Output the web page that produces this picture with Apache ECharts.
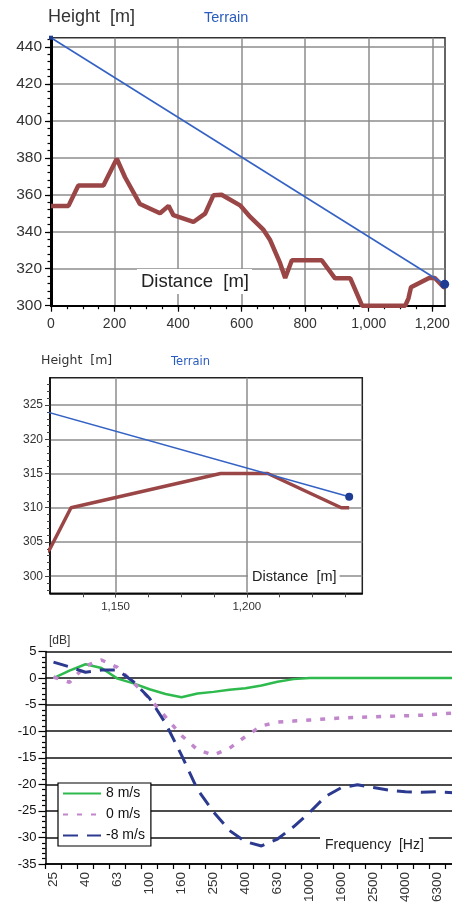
<!DOCTYPE html>
<html><head><meta charset="utf-8">
<script src="https://cdn.jsdelivr.net/npm/echarts@6/dist/echarts.min.js"></script>
<style>html,body{margin:0;padding:0;background:#fff;overflow:hidden;width:452px;height:914px}#c{width:462px;height:914px}</style>
</head><body><div id="c"></div>
<script>
// ---- Terrain profile (distance m, height m)
const terrain = [[0,354],[55,354],[86,365],[165,365],[207,379.5],[233,369.5],[280,355],[343,350],[370,354],[385,349],[448,345.3],[485,349.8],[511,359.7],[537,360],[595,354.3],[627,348],[669,341],[690,335.4],[721,323],[737,315],[758,324.6],[852,324.6],[894,314.8],[942,314.8],[979,300],[1115,300],[1125,304],[1133,310],[1190,315],[1208,315],[1236,310],[1239,310]];
const sightLine = [[0,445],[1239,311.6]];
const p1XTicks = [0,200,400,600,800,1000,1200];
const p1YTicks = [300,320,340,360,380,400,420,440];
const p2XTicks = [1150,1200];
const p2YTicks = [300,305,310,315,320,325];
// ---- Frequency chart
const bands = ['25','31.5','40','50','63','80','100','125','160','200','250','315','400','500','630','800','1000','1250','1600','2000','2500','3150','4000','5000','6300','8000'];
const wind8 = [0,1.4,2.6,1.9,-0.1,-1.0,-2.1,-3.0,-3.6,-2.9,-2.6,-2.2,-1.9,-1.4,-0.7,-0.2,0,0,0,0,0,0,0,0,0,0];
const wind0 = [0.2,-0.8,2.3,3.4,2.0,-0.9,-3.8,-7.3,-10.8,-13.5,-14.5,-13.2,-11.0,-9.0,-8.3,-8.1,-7.9,-7.7,-7.5,-7.4,-7.3,-7.2,-7.1,-7.0,-6.8,-6.6];
const windM8 = [3.0,2.1,1.1,1.5,1.5,-0.7,-3.8,-8.5,-14.5,-21,-25.2,-28.7,-30.8,-31.6,-30.3,-28,-25.3,-22.3,-20.6,-20.1,-20.6,-21.1,-21.4,-21.5,-21.4,-21.6];
const seriesNames = ['8 m/s','0 m/s','-8 m/s'];

function steps(a,b,s){const r=[];for(let v=a;v<=b+1e-9;v+=s)r.push(+v.toFixed(3));return r;}
const fmt = v => Number(v).toLocaleString('en-US');
const SANS = 'Liberation Sans, Arial, sans-serif';
const DJV = 'DejaVu Sans, sans-serif';
const W = 462; // canvas wider than the window so the last band runs off the right edge

const chart = echarts.init(document.getElementById('c'), null, {renderer:'canvas'});
const gray = '#8c8c8c';
const clear = 'rgba(0,0,0,0)';

const option = {
  animation:false,
  backgroundColor:'#fff',
  title:[
    {text:'Height  [m]', left:48, top:7, padding:0, textStyle:{fontFamily:SANS,fontSize:18,fontWeight:'normal',color:'#333',lineHeight:20}},
    {text:'Terrain', left:204, top:10, padding:0, textStyle:{fontFamily:SANS,fontSize:14.5,fontWeight:'normal',color:'#2a5cbf',lineHeight:16}},
    {text:'Distance  [m]', left:137, top:269, padding:[3,3,2,4], backgroundColor:'#fff', textStyle:{fontFamily:SANS,fontSize:18.5,fontWeight:'normal',color:'#222',lineHeight:20}},
    {text:'Height  [m]', left:41, top:354, padding:0, textStyle:{fontFamily:DJV,fontSize:12.5,fontWeight:'normal',color:'#333',lineHeight:14}},
    {text:'Terrain', left:171, top:355, padding:0, textStyle:{fontFamily:DJV,fontSize:11.5,fontWeight:'normal',color:'#2a5cbf',lineHeight:14}},
    {text:'Distance  [m]', left:248, top:567, padding:[2,3,2,4], backgroundColor:'#fff', textStyle:{fontFamily:SANS,fontSize:14.5,fontWeight:'normal',color:'#222',lineHeight:16}},
    {text:'[dB]', left:49, top:634, padding:0, textStyle:{fontFamily:SANS,fontSize:12,fontWeight:'normal',color:'#333',lineHeight:14}},
    {text:'Frequency  [Hz]', left:320, top:836, padding:[1,5,1,5], backgroundColor:'#fff', textStyle:{fontFamily:SANS,fontSize:14,fontWeight:'normal',color:'#222',lineHeight:16}}
  ],
  legend:{
    data:seriesNames, orient:'vertical', left:58, top:783,
    itemWidth:38, itemHeight:14, itemGap:7, padding:[3.5,6,3.5,4],
    borderColor:'#000', borderWidth:1.2, backgroundColor:'#fff', borderRadius:0,
    textStyle:{fontFamily:SANS,fontSize:14,color:'#111'}, selectedMode:false
  },
  grid:[
    {left:51, top:37.7, right:W-445, bottom:608.3, show:true, borderColor:'#333', borderWidth:1.5},
    {left:50, top:377.7, right:W-362.3, bottom:320.7, show:true, borderColor:'#222', borderWidth:1.5},
    {left:45.5, top:651.5, right:W-461.5, bottom:50}
  ],
  xAxis:[
    {gridIndex:0, type:'value', min:0, max:1240, position:'bottom',
     axisLine:{show:true,onZero:false,lineStyle:{color:'#000',width:2}},
     axisTick:{show:true,length:6,customValues:p1XTicks,lineStyle:{color:'#000',width:1.2}},
     axisLabel:{customValues:p1XTicks,formatter:fmt,fontFamily:SANS,fontSize:14,color:'#333',margin:11},
     splitLine:{show:true,lineStyle:{color:gray,width:1.5}}},
    {gridIndex:0, type:'value', min:0, max:1240, position:'bottom',
     axisLine:{show:false}, axisLabel:{show:false}, splitLine:{show:false},
     axisTick:{show:true,length:3.5,customValues:steps(50,1200,50),lineStyle:{color:'#000',width:1.2}}},
    {gridIndex:1, type:'value', min:1125, max:1244, position:'bottom',
     axisLine:{show:true,onZero:false,lineStyle:{color:'#000',width:1.5}},
     axisTick:{show:true,length:4,customValues:p2XTicks,lineStyle:{color:'#444',width:1}},
     axisLabel:{customValues:p2XTicks,formatter:fmt,fontFamily:SANS,fontSize:11.5,color:'#333',margin:8},
     splitLine:{show:true,lineStyle:{color:gray,width:1.5}}},
    {gridIndex:1, type:'value', min:1125, max:1244, position:'bottom',
     axisLine:{show:false}, axisLabel:{show:false}, splitLine:{show:false},
     axisTick:{show:true,length:4,customValues:steps(1137.5,1237.5,12.5),lineStyle:{color:'#444',width:1}}},
    {gridIndex:2, type:'category', data:bands, boundaryGap:true, position:'bottom',
     axisLine:{show:true,onZero:false,lineStyle:{color:'#000',width:1.5}},
     axisTick:{show:true,interval:0,length:5,alignWithLabel:false,lineStyle:{color:'#000',width:1.2}},
     axisLabel:{interval:1,rotate:90,fontFamily:SANS,fontSize:13.5,color:'#333',margin:8},
     splitLine:{show:false}}
  ],
  yAxis:[
    {gridIndex:0, type:'value', min:300, max:445, position:'left',
     axisLine:{show:true,onZero:false,lineStyle:{color:'#000',width:3}},
     axisTick:{show:true,length:6,customValues:p1YTicks,lineStyle:{color:'#000',width:1.2}},
     axisLabel:{customValues:p1YTicks,fontFamily:SANS,fontSize:15.5,color:'#333',margin:9},
     splitLine:{show:true,lineStyle:{color:gray,width:1.5}}},
    {gridIndex:0, type:'value', min:300, max:445, position:'left',
     axisLine:{show:false}, axisLabel:{show:false}, splitLine:{show:false},
     axisTick:{show:true,length:3.5,customValues:steps(304,444,4),lineStyle:{color:'#000',width:1.2}}},
    {gridIndex:1, type:'value', min:297.5, max:329, position:'left',
     axisLine:{show:true,onZero:false,lineStyle:{color:'#000',width:1.5}},
     axisTick:{show:true,length:5,customValues:p2YTicks,lineStyle:{color:'#444',width:1}},
     axisLabel:{customValues:p2YTicks,fontFamily:SANS,fontSize:12,color:'#333',margin:7},
     splitLine:{show:true,lineStyle:{color:gray,width:1.5}}},
    {gridIndex:1, type:'value', min:297.5, max:329, position:'left',
     axisLine:{show:false}, axisLabel:{show:false}, splitLine:{show:false},
     axisTick:{show:true,length:3,customValues:steps(298,328,1),lineStyle:{color:'#444',width:1}}},
    {gridIndex:2, type:'value', min:-35, max:5, interval:5, position:'left',
     axisLine:{show:true,onZero:false,lineStyle:{color:'#000',width:1.5}},
     axisTick:{show:true,length:7,lineStyle:{color:'#000',width:1.2}},
     minorTick:{show:true,splitNumber:5,length:3.5,lineStyle:{color:'#000',width:1.2}},
     axisLabel:{fontFamily:SANS,fontSize:13,color:'#111',margin:9},
     splitLine:{show:true,lineStyle:{color:'#111',width:1.5}}}
  ],
  series:[
    {name:'terrain1', type:'line', xAxisIndex:0, yAxisIndex:0, data:terrain, symbol:'none', clip:true,
     lineStyle:{color:'#9a4646',width:4.5}, z:3},
    {name:'sight1', type:'line', xAxisIndex:0, yAxisIndex:0, clip:true, showSymbol:true,
     data:[{value:sightLine[0],symbol:'rect',symbolSize:4},{value:sightLine[1],symbol:'circle',symbolSize:9}],
     lineStyle:{color:'#3462c4',width:1.6}, itemStyle:{color:'#1f3c94'}, z:4},
    {name:'terrain2', type:'line', xAxisIndex:2, yAxisIndex:2, data:terrain, symbol:'none', clip:true,
     lineStyle:{color:'#9a4646',width:3.5}, z:3},
    {name:'sight2', type:'line', xAxisIndex:2, yAxisIndex:2, clip:true, showSymbol:true,
     data:[{value:sightLine[0],symbol:'rect',symbolSize:4},{value:sightLine[1],symbol:'circle',symbolSize:8}],
     lineStyle:{color:'#3462c4',width:1.5}, itemStyle:{color:'#1f3c94'}, z:4},
    {name:seriesNames[0], type:'line', xAxisIndex:4, yAxisIndex:4, data:wind8, symbol:'none',
     lineStyle:{color:'#2fba4e',width:2.5}, itemStyle:{color:clear}, z:3},
    {name:seriesNames[1], type:'line', xAxisIndex:4, yAxisIndex:4, data:wind0, symbol:'none',
     lineStyle:{color:'#c286cc',width:3.5,type:[5,9]}, itemStyle:{color:clear}, z:3},
    {name:seriesNames[2], type:'line', xAxisIndex:4, yAxisIndex:4, data:windM8, symbol:'none',
     lineStyle:{color:'#2b3a8f',width:3,type:[15,9]}, itemStyle:{color:clear}, z:3}
  ]
};
chart.setOption(option);
</script></body></html>
